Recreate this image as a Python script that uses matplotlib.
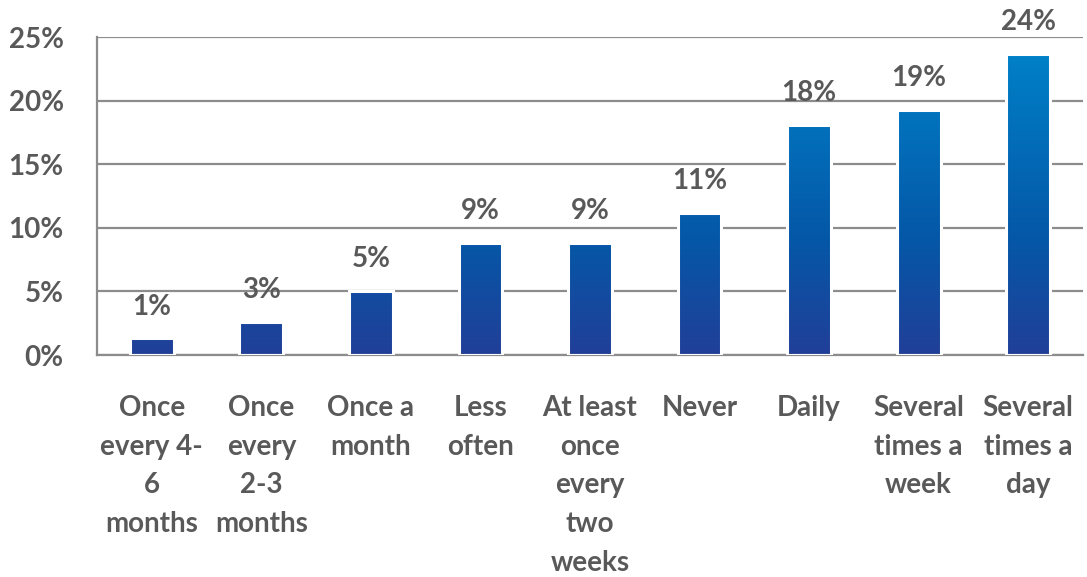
import numpy as np
import matplotlib
matplotlib.use("Agg")
import matplotlib.pyplot as plt
from matplotlib.colors import LinearSegmentedColormap
from matplotlib.ticker import FuncFormatter

categories = [
    "Once\nevery 4-\n6\nmonths",
    "Once\nevery\n2-3\nmonths",
    "Once a\nmonth",
    "Less\noften",
    "At least\nonce\nevery\ntwo\nweeks",
    "Never",
    "Daily",
    "Several\ntimes a\nweek",
    "Several\ntimes a\nday",
]
values = [1.3, 2.6, 5.0, 8.8, 8.8, 11.2, 18.1, 19.3, 23.7]
value_labels = ["1%", "3%", "5%", "9%", "9%", "11%", "18%", "19%", "24%"]
y_ticks = [0, 5, 10, 15, 20, 25]

plt.rcParams["font.family"] = ["Lato", "DejaVu Sans"]
plt.rcParams["font.weight"] = "bold"

text_color = "#595959"
grid_color = "#8c8c8c"
fs = 20

fig = plt.figure(figsize=(10.87, 5.77), dpi=100)
ax = fig.add_axes([97 / 1087, 1 - 355 / 577, (1083 - 97) / 1087, (355 - 37) / 577])

x = np.arange(len(categories))
bars = ax.bar(x, values, width=0.4, color="none", edgecolor="white", linewidth=2.2, zorder=3)

# Vertical blue gradient tied to the value scale: dark at 0, lighter toward the top
cmap = LinearSegmentedColormap.from_list(
    "blue_grad", [(0.0, "#213f98"), (0.38, "#0557a7"), (1.0, "#0080c8")])
grad = np.linspace(0, 1, 256).reshape(-1, 1)
for b in bars:
    x0, w = b.get_x(), b.get_width()
    im = ax.imshow(grad, cmap=cmap, origin="lower", aspect="auto",
                   extent=[x0, x0 + w, 0, max(values)], zorder=2, interpolation="bilinear")
    im.set_clip_path(b)

for xi, v, lab in zip(x, values, value_labels):
    ax.annotate(lab, (xi, v), xytext=(0, 23), textcoords="offset points",
                ha="center", va="center", fontsize=fs, fontweight="bold",
                color=text_color, zorder=5)

ax.set_xlim(-0.5, len(categories) - 0.5)
ax.set_ylim(0, 25)
ax.set_yticks(y_ticks)
ax.yaxis.set_major_formatter(FuncFormatter(lambda v, _: f"{v:.0f}%"))
ax.grid(axis="y", color=grid_color, linewidth=1.6, zorder=1)
ax.set_axisbelow(True)

for side in ("top", "right"):
    ax.spines[side].set_visible(False)
for side in ("left", "bottom"):
    ax.spines[side].set_color(grid_color)
    ax.spines[side].set_linewidth(1.6)

ax.tick_params(axis="y", length=0, pad=24, labelsize=fs, labelcolor=text_color)
ax.tick_params(axis="x", length=0, pad=29, labelsize=fs, labelcolor=text_color)
ax.set_xticks(x)
ax.set_xticklabels(categories, linespacing=1.6, va="top")
for t in ax.get_xticklabels() + ax.get_yticklabels():
    t.set_fontweight("bold")
ax.set_xlim(-0.5, len(categories) - 0.5)

fig.savefig("out.png", dpi=100)
